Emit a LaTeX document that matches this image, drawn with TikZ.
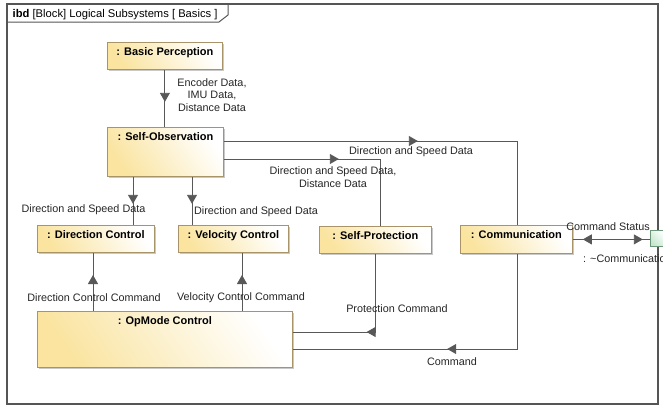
\documentclass[tikz,border=0pt]{standalone}
\usepackage{fontspec}
\setmainfont{Liberation Sans}
\usetikzlibrary{arrows.meta,shadows,decorations.markings}
\definecolor{blockfill}{RGB}{250,228,160}
\definecolor{blockline}{RGB}{168,148,104}
\definecolor{wire}{RGB}{88,88,88}
\definecolor{framec}{RGB}{85,85,85}
\definecolor{portfill}{RGB}{196,232,204}
\definecolor{portline}{RGB}{110,150,120}
\newcommand\figfont{\fontsize{10.8}{12.3}\selectfont}
\newcommand\titlefont{\fontsize{11.2}{12.5}\selectfont}
\newcommand\blkfont{\bfseries\fontsize{11}{12.5}\selectfont}
\tikzset{
  blk/.style={draw=blockline, line width=0.8pt, top color=white, bottom color=blockfill,
    shading angle=-55, drop shadow={shadow xshift=2pt, shadow yshift=-2pt, fill=black!35, opacity=0.6},
    anchor=north west, inner xsep=0pt, inner ysep=0pt, text height=13pt, font=\blkfont},
  wire/.style={draw=wire, line width=0.9pt},
  lbl/.style={font=\figfont, align=center, inner sep=0pt, text=black!85},
  flowat/.style={postaction={decorate, decoration={markings,
    mark=at position #1 with {\arrow[wire]{Triangle[length=9pt,width=10pt]}}}}},
  bidi/.style={postaction={decorate, decoration={markings,
    mark=at position 10pt with {\arrowreversed[wire]{Triangle[length=9pt,width=10pt]}},
    mark=at position 70pt with {\arrow[wire]{Triangle[length=9pt,width=10pt]}}}}}
}
\begin{document}
\begin{tikzpicture}[x=1pt,y=-1pt]
\useasboundingbox (0,0) rectangle (663,407);
\fill[white] (0,0) rectangle (663,407);
\clip (0,0) rectangle (663,407);
% frame
\draw[draw=framec, line width=1.3pt] (7,4) rectangle (658,404);
\draw[draw=framec, line width=1pt] (7,22) -- (219,22) -- (228,15) -- (228,4);
\node[anchor=base west, inner sep=0pt, font=\titlefont] (title) at (12.5,17.5) {\textbf{ibd} [Block] Logical Subsystems [ Basics ]};
% blocks
\node[blk, minimum width=115pt, text depth=14pt] (bp) at (107,42) {: Basic Perception};
\node[blk, minimum width=116pt, text depth=36pt] (so) at (107,127) {: Self-Observation};
\node[blk, minimum width=117pt, text depth=14pt] (dc) at (37,225) {: Direction Control};
\node[blk, minimum width=110pt, text depth=14pt] (vc) at (178,225) {: Velocity Control};
\node[blk, minimum width=112pt, text depth=14pt] (sp) at (319,226) {: Self-Protection};
\node[blk, minimum width=112pt, text depth=15pt] (cm) at (460,225) {: Communication};
\node[blk, minimum width=255pt, text depth=43pt] (om) at (37,311) {: OpMode Control};
\node[draw=portline, line width=0.8pt, top color=white, bottom color=portfill, shading angle=-45,
  anchor=north west, minimum width=16pt, minimum height=16pt, inner sep=0pt] (port) at (650,230) {};
% connectors
\draw[wire, flowat=32pt] (bp.south) -- (bp.south |- so.north);
\draw[wire, flowat=27pt] (so.south -| 133,0) -- (dc.north -| 133,0);
\draw[wire, flowat=27pt] (so.south -| 192,0) -- (vc.north -| 192,0);
\draw[wire, flowat=194pt] (so.east |- 0,141) -| (cm.north -| 517,0);
\draw[wire, flowat=115pt] (so.east |- 0,159) -| (sp.north -| 380,0);
\draw[wire, flowat=36pt] (om.north -| 93,0) -- (dc.south -| 93,0);
\draw[wire, flowat=36pt] (om.north -| 242,0) -- (vc.south -| 242,0);
\draw[wire, flowat=87pt] (sp.south) |- (om.east |- 0,332);
\draw[wire, flowat=165pt] (cm.south -| 517,0) |- (om.east |- 0,349);
\draw[wire, bidi] (cm.east) -- (cm.east -| port.west);
% labels
\node[lbl] (l1) at (212,95) {Encoder Data,\\IMU Data,\\Distance Data};
\node[lbl] (l2) at (83.5,210) {Direction and Speed Data};
\node[lbl] (l3) at (256,212) {Direction and Speed Data};
\node[lbl] (l4) at (411,152) {Direction and Speed Data};
\node[lbl] (l5) at (333,177) {Direction and Speed Data,\\Distance Data};
\node[lbl] (l6) at (94,298) {Direction Control Command};
\node[lbl] (l7) at (241,298) {Velocity Control Command};
\node[lbl] (l8) at (397,309) {Protection Command};
\node[lbl] (l9) at (452,362) {Command};
\node[lbl] (l10) at (608,227) {Command Status};
\node[lbl, anchor=west] (l11) at (583,259) {: \textasciitilde Communication};
\end{tikzpicture}
\end{document}
